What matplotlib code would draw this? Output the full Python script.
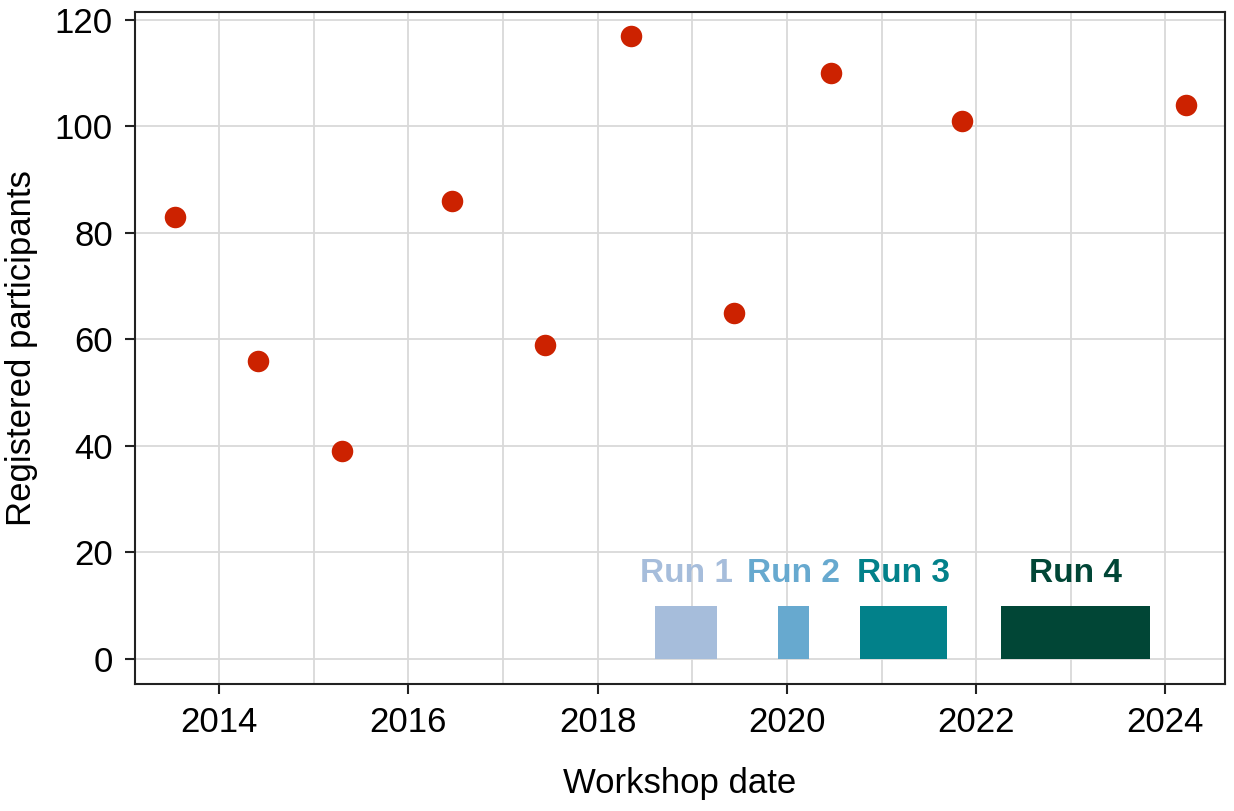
import matplotlib
matplotlib.use("Agg")
import matplotlib.pyplot as plt
import matplotlib.dates as mdates
import numpy as np
import pandas as pd

plt.rcParams["font.family"] = ["Liberation Sans", "DejaVu Sans"]

workshop_dates = pd.to_datetime([
    "2013-07-14", "2014-06-01", "2015-04-20", "2016-06-19", "2017-06-10",
    "2018-05-08", "2019-06-12", "2020-06-20", "2021-11-06", "2024-03-20",
])
participants = [83, 56, 39, 86, 59, 117, 65, 110, 101, 104]

run_names = ["Run 1", "Run 2", "Run 3", "Run 4"]
run_start = pd.to_datetime(["2018-08-10", "2019-11-26", "2020-10-08", "2022-04-08"])
run_end = pd.to_datetime(["2019-04-08", "2020-03-28", "2021-09-10", "2023-11-02"])
run_colors = ["#a6bddb", "#67a9cf", "#02818a", "#014636"]
bar_height = 10
label_y = 16

fig = plt.figure(figsize=(12.34, 8.11), dpi=100)
ax = fig.add_axes([0.1094, 0.1566, 0.8833, 0.8286])

left = mdates.date2num(run_start)
width = mdates.date2num(run_end) - left
ax.bar(left, bar_height, width=width, align="edge", color=run_colors, zorder=2)
for name, l, w, c in zip(run_names, left, width, run_colors):
    ax.text(l + w / 2, label_y, name, ha="center", va="center", color=c,
            fontsize=24, fontweight="bold", zorder=3)

ax.scatter(mdates.date2num(workshop_dates), participants, s=240, color="#cc2200",
           zorder=4, linewidths=0)

ax.set_yticks(np.arange(0, 121, 20))
ax.xaxis.set_major_locator(mdates.YearLocator(2))
ax.xaxis.set_major_formatter(mdates.DateFormatter("%Y"))
ax.set_xticks(mdates.date2num(pd.to_datetime([f"{y}-01-01" for y in range(2013, 2025, 2)])),
              minor=True)
ax.set_xlim(mdates.date2num(pd.Timestamp("2013-02-10")),
            mdates.date2num(pd.Timestamp("2024-08-18")))
ax.set_ylim(-4.7, 121.5)

ax.grid(True, which="both", color="#d9d9d9", linewidth=1.3, zorder=0)
ax.set_axisbelow(True)
ax.tick_params(which="major", labelsize=25, length=7, width=1.5, color="#222222",
               labelcolor="black", pad=9)
ax.tick_params(which="minor", length=0)
for sp in ax.spines.values():
    sp.set_linewidth(1.5)
    sp.set_color("#222222")

ax.set_xlabel("Workshop date", fontsize=25, labelpad=20)
ax.set_ylabel("Registered participants", fontsize=25, labelpad=12)

fig.savefig("out.png", dpi=100)
